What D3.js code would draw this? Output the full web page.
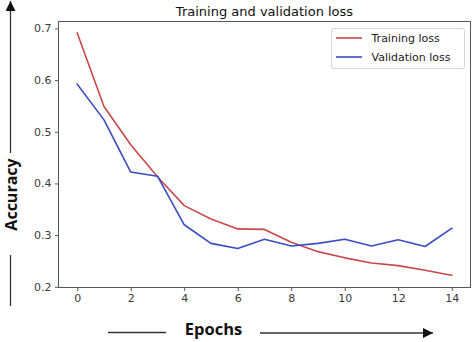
<!DOCTYPE html>
<html>
<head>
<meta charset="utf-8">
<script src="https://cdn.jsdelivr.net/npm/d3@7"></script>
<style>
  html, body { margin: 0; padding: 0; background: #fff; }
  svg { display: block; }
</style>
</head>
<body>
<svg id="chart" width="474" height="342"></svg>
<script>
// Loss per epoch
const epochs = [0, 1, 2, 3, 4, 5, 6, 7, 8, 9, 10, 11, 12, 13, 14];
const trainingLoss = [0.691, 0.549, 0.475, 0.413, 0.357, 0.331, 0.312, 0.311, 0.286, 0.268, 0.256, 0.246, 0.241, 0.232, 0.222];
const validationLoss = [0.592, 0.523, 0.422, 0.414, 0.320, 0.284, 0.274, 0.292, 0.279, 0.284, 0.292, 0.279, 0.291, 0.278, 0.313];
const xTicks = [0, 2, 4, 6, 8, 10, 12, 14];
const yTicks = [0.2, 0.3, 0.4, 0.5, 0.6, 0.7];
const seriesNames = ["Training loss", "Validation loss"];
const seriesColors = ["#c9484b", "#3a4cc2"];

const svg = d3.select("#chart");
const plotL = 58.5, plotR = 470.5, plotT = 21.5, plotB = 287.5;

const x = d3.scaleLinear().domain([-0.7, 14.7]).range([plotL, plotR]);
const y = d3.scaleLinear().domain([0.1986, 0.7134]).range([plotB, plotT]);

const tickFont = "DejaVu Sans, sans-serif";

// axes
const xAxis = svg.append("g")
  .attr("transform", `translate(0,${plotB})`)
  .call(d3.axisBottom(x).tickValues(xTicks).tickFormat(d3.format("d")).tickSizeInner(3.5).tickSizeOuter(0).tickPadding(3.5));
const yAxis = svg.append("g")
  .attr("transform", `translate(${plotL},0)`)
  .call(d3.axisLeft(y).tickValues(yTicks).tickFormat(d3.format(".1f")).tickSizeInner(3.5).tickSizeOuter(0).tickPadding(3.5));
[xAxis, yAxis].forEach(g => {
  g.select(".domain").remove();
  g.selectAll(".tick line").attr("stroke", "#444").attr("stroke-width", 0.9);
  g.selectAll(".tick text").attr("fill", "#3a3a3a").style("font-family", tickFont).style("font-size", "11px");
});

// frame
svg.append("rect")
  .attr("x", plotL).attr("y", plotT)
  .attr("width", plotR - plotL).attr("height", plotB - plotT)
  .attr("fill", "none").attr("stroke", "#555").attr("stroke-width", 1);

// lines
const line = d3.line().x((d, i) => x(epochs[i])).y(d => y(d));
[trainingLoss, validationLoss].forEach((s, k) => {
  svg.append("path")
    .datum(s)
    .attr("d", line)
    .attr("fill", "none")
    .attr("stroke", seriesColors[k])
    .attr("stroke-width", 1.6)
    .attr("stroke-linejoin", "round")
    .attr("stroke-linecap", "square");
});

// title
svg.append("text")
  .attr("x", (plotL + plotR) / 2).attr("y", 16)
  .attr("text-anchor", "middle")
  .style("font-family", tickFont).style("font-size", "13px")
  .attr("fill", "#111")
  .text("Training and validation loss");

// legend
const lg = svg.append("g");
lg.append("rect")
  .attr("x", 331.5).attr("y", 28.5).attr("width", 133).attr("height", 40)
  .attr("rx", 2.5).attr("fill", "#fff").attr("fill-opacity", 0.8)
  .attr("stroke", "#d6d6d6").attr("stroke-width", 1);
seriesNames.forEach((n, k) => {
  const cy = 38 + k * 19;
  lg.append("line")
    .attr("x1", 336).attr("x2", 362).attr("y1", cy).attr("y2", cy)
    .attr("stroke", seriesColors[k]).attr("stroke-width", 1.6);
  lg.append("text")
    .attr("x", 371.5).attr("y", cy).attr("dy", "0.36em")
    .style("font-family", tickFont).style("font-size", "11px")
    .attr("fill", "#222")
    .text(n);
});

// axis titles with arrows
const labelFont = "'Open Sans', sans-serif";
svg.append("defs").append("marker")
  .attr("id", "head").attr("viewBox", "0 0 10 10")
  .attr("refX", 10).attr("refY", 5)
  .attr("markerWidth", 10).attr("markerHeight", 10)
  .attr("markerUnits", "userSpaceOnUse")
  .attr("orient", "auto")
  .append("path").attr("d", "M0,0 L10,5 L0,10 Z").attr("fill", "#111");

svg.append("text")
  .attr("transform", "translate(17,194.5) rotate(-90)")
  .attr("text-anchor", "middle")
  .style("font-family", labelFont).style("font-size", "16px").style("font-weight", "bold")
  .attr("fill", "#111")
  .text("Accuracy");
svg.append("line")
  .attr("x1", 10.5).attr("x2", 10.5).attr("y1", 153).attr("y2", 1)
  .attr("stroke", "#333").attr("stroke-width", 1.3).attr("marker-end", "url(#head)");
svg.append("line")
  .attr("x1", 10.5).attr("x2", 10.5).attr("y1", 255).attr("y2", 306)
  .attr("stroke", "#333").attr("stroke-width", 1.3);

svg.append("text")
  .attr("x", 213.5).attr("y", 335)
  .attr("text-anchor", "middle")
  .style("font-family", labelFont).style("font-size", "16.5px").style("font-weight", "bold")
  .attr("fill", "#111")
  .text("Epochs");
svg.append("line")
  .attr("x1", 108).attr("x2", 166).attr("y1", 332.5).attr("y2", 332.5)
  .attr("stroke", "#333").attr("stroke-width", 1.3);
svg.append("line")
  .attr("x1", 260).attr("x2", 433).attr("y1", 333).attr("y2", 333)
  .attr("stroke", "#333").attr("stroke-width", 1.3).attr("marker-end", "url(#head)");
</script>
</body>
</html>
